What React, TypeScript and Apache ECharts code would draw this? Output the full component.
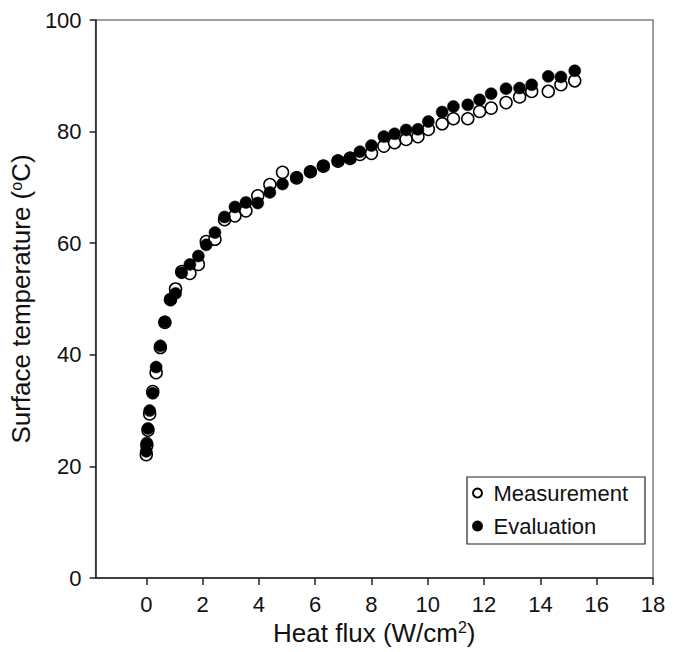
import React, { useEffect, useRef } from "react";
import * as echarts from "echarts";

const heatFlux = [
  0.0, 0.02, 0.06, 0.12, 0.23, 0.35, 0.5, 0.66, 0.86, 1.04, 1.26, 1.55, 1.85, 2.13, 2.44,
  2.78, 3.15, 3.54, 3.96, 4.39, 4.84, 5.34, 5.83, 6.29, 6.81, 7.24, 7.59, 8.0, 8.44, 8.82,
  9.23, 9.65, 10.02, 10.51, 10.91, 11.42, 11.84, 12.25, 12.78, 13.26, 13.69, 14.28, 14.73, 15.22,
];

const evaluation = [
  22.7, 24.2, 26.8, 30.0, 33.1, 37.8, 41.6, 45.9, 49.9, 51.0, 54.7, 56.2, 57.7, 59.7, 61.9,
  64.7, 66.5, 67.3, 67.2, 69.1, 70.6, 71.8, 72.8, 73.9, 74.8, 75.3, 76.4, 77.5, 79.1, 79.6,
  80.3, 80.4, 81.8, 83.5, 84.5, 84.8, 85.7, 86.8, 87.7, 87.8, 88.4, 89.9, 89.8, 90.9,
];

const measurement = [
  22.1, 23.8, 26.5, 29.4, 33.4, 36.8, 41.3, 45.8, 49.9, 51.8, 54.9, 54.6, 56.2, 60.3, 60.7,
  64.2, 64.9, 65.8, 68.5, 70.5, 72.7, 71.7, 72.8, 73.8, 74.7, 75.2, 75.9, 76.1, 77.4, 78.0,
  78.6, 79.1, 80.4, 81.4, 82.3, 82.3, 83.6, 84.2, 85.2, 86.2, 87.2, 87.2, 88.4, 89.1,
];

const xTicks = [0, 2, 4, 6, 8, 10, 12, 14, 16, 18];

const FONT = "Liberation Sans, Arial, sans-serif";

export default function App() {
  const ref = useRef<HTMLDivElement>(null);
  useEffect(() => {
    if (!ref.current) return;
    const chart = echarts.init(ref.current, undefined, { renderer: "svg" });
    const rich = {
      a: { fontSize: 26, fontFamily: FONT, color: "#111" },
      sup: { fontSize: 16, fontFamily: FONT, color: "#111", verticalAlign: "top", padding: [0, 0, 10, 0] },
    };
    chart.setOption({
      animation: false,
      backgroundColor: "#fff",
      textStyle: { fontFamily: FONT },
      grid: {
        left: 93,
        right: 23,
        top: 20,
        bottom: 74,
        show: true,
        borderColor: "#808080",
        borderWidth: 1.5,
        backgroundColor: "transparent",
      },
      legend: {
        orient: "vertical",
        left: 467,
        top: 477,
        padding: [5, 17, 7, 5],
        itemGap: 11,
        itemWidth: 22,
        itemHeight: 9,
        borderColor: "#222",
        borderWidth: 1.2,
        borderRadius: 0,
        backgroundColor: "#fff",
        textStyle: { fontSize: 22, fontFamily: FONT, color: "#111" },
        data: [
          { name: "Measurement", icon: "circle" },
          { name: "Evaluation", icon: "circle" },
        ],
      },
      xAxis: {
        type: "value",
        min: -1.8,
        max: 18,
        name: "{a|Heat flux (W/cm}{sup|2}{a|)}",
        nameLocation: "middle",
        nameGap: 41,
        nameTextStyle: { fontSize: 26, rich },
        axisLine: { onZero: false, lineStyle: { color: "#222", width: 1.5 } },
        axisTick: { show: true, inside: false, length: 7, lineStyle: { color: "#222", width: 1.5 }, customValues: xTicks },
        axisLabel: { customValues: xTicks, fontSize: 22, fontFamily: FONT, color: "#111", margin: 15 },
        splitLine: { show: false },
      },
      yAxis: {
        type: "value",
        min: 0,
        max: 100,
        interval: 20,
        name: "{a|Surface temperature (}{sup|o}{a|C)}",
        nameLocation: "middle",
        nameGap: 52,
        nameRotate: 90,
        nameTextStyle: { fontSize: 26, rich },
        axisLine: { show: true, onZero: false, lineStyle: { color: "#222", width: 1.5 } },
        axisTick: { show: true, inside: false, length: 6, lineStyle: { color: "#222", width: 1.5 } },
        axisLabel: { fontSize: 22, fontFamily: FONT, color: "#111", margin: 14 },
        splitLine: { show: false },
      },
      series: [
        {
          name: "Measurement",
          type: "scatter",
          symbol: "circle",
          symbolSize: 12,
          data: heatFlux.map((x, i) => [x, measurement[i]]),
          itemStyle: { color: "#fff", borderColor: "#000", borderWidth: 1.5, opacity: 1 },
          z: 2,
        },
        {
          name: "Evaluation",
          type: "scatter",
          symbol: "circle",
          symbolSize: 12,
          data: heatFlux.map((x, i) => [x, evaluation[i]]),
          itemStyle: { color: "#000", borderColor: "#000", borderWidth: 0.5, opacity: 1 },
          z: 3,
        },
      ],
    });
    return () => chart.dispose();
  }, []);
  return (
    <div
      ref={ref}
      style={{ position: "fixed", left: 0, top: 0, width: 676, height: 652, background: "#fff" }}
    />
  );
}
